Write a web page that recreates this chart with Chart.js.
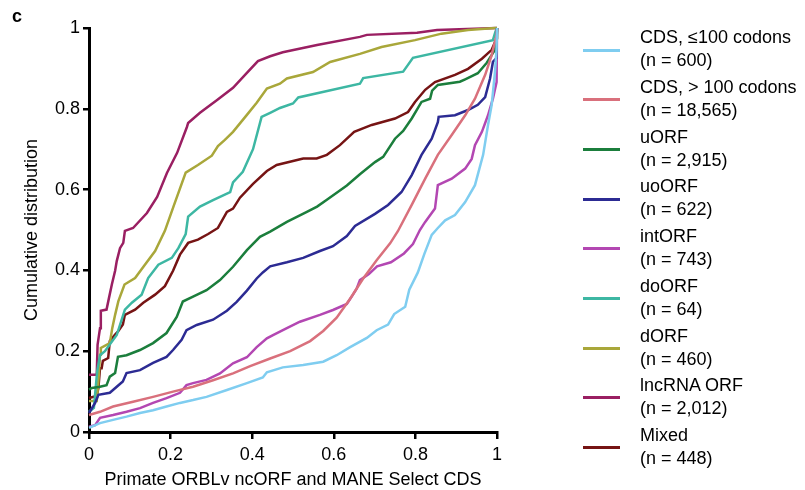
<!DOCTYPE html>
<html>
<head>
<meta charset="utf-8">
<script src="https://cdn.jsdelivr.net/npm/chart.js@4.4.1/dist/chart.umd.min.js"></script>
<style>
  body { margin: 0; background: #fff; }
  #wrap { position: relative; width: 805px; height: 490px; font-family: "Liberation Sans", Arial, sans-serif; color: #000; }
  #chart { position: absolute; left: 0; top: 0; }
  .panel { position: absolute; left: 12px; top: 7px; font-size: 18px; font-weight: bold; line-height: 18px; }
  .key { position: absolute; left: 583px; width: 37px; height: 3px; }
  .keytext { position: absolute; left: 640px; font-size: 18px; line-height: 23px; white-space: nowrap; }
</style>
</head>
<body>
<div id="wrap">
  <canvas id="chart" width="805" height="490"></canvas>
  <div class="panel">c</div>
  <div id="legend"></div>
</div>
<script>
// series names and counts, as in the legend
const seriesNames = ['CDS, \u2264100 codons', 'CDS, > 100 codons', 'uORF', 'uoORF', 'intORF', 'doORF', 'dORF', 'lncRNA ORF', 'Mixed'];
const seriesCounts = ['600', '18,565', '2,915', '622', '743', '64', '460', '2,012', '448'];
const seriesColors = ['#7fcdf0', '#d9707c', '#1b7e3c', '#2c2b93', '#b347b2', '#3db7a3', '#a9a73a', '#9a1f62', '#761414'];

const tickValues = [0, 0.2, 0.4, 0.6, 0.8, 1];
const tickLabels = ['0', '0.2', '0.4', '0.6', '0.8', '1'];

// cumulative curves: [percentile, cumulative fraction]
const cdsShort = [[0,0.01],[0.027,0.022],[0.059,0.03],[0.092,0.038],[0.125,0.047],[0.157,0.054],[0.19,0.063],[0.223,0.072],[0.255,0.079],[0.288,0.087],[0.338,0.104],[0.387,0.121],[0.426,0.135],[0.436,0.148],[0.475,0.16],[0.525,0.166],[0.574,0.174],[0.607,0.19],[0.64,0.21],[0.681,0.233],[0.705,0.252],[0.733,0.266],[0.748,0.292],[0.775,0.31],[0.785,0.352],[0.806,0.395],[0.822,0.441],[0.84,0.488],[0.855,0.505],[0.873,0.524],[0.897,0.537],[0.922,0.569],[0.946,0.611],[0.966,0.686],[0.978,0.76],[0.987,0.81],[0.995,0.891],[0.999,0.949],[1,1]];
const cdsLong = [[0,0.042],[0.027,0.05],[0.059,0.063],[0.108,0.075],[0.157,0.087],[0.206,0.1],[0.255,0.112],[0.304,0.128],[0.353,0.145],[0.395,0.163],[0.444,0.182],[0.493,0.2],[0.542,0.225],[0.574,0.25],[0.607,0.283],[0.64,0.33],[0.672,0.38],[0.705,0.425],[0.738,0.467],[0.757,0.497],[0.791,0.562],[0.824,0.627],[0.855,0.686],[0.889,0.735],[0.922,0.784],[0.946,0.825],[0.971,0.884],[0.987,0.933],[0.999,0.983],[1,1]];
const uORF = [[0,0.105],[0.007,0.109],[0.027,0.112],[0.043,0.116],[0.051,0.137],[0.064,0.146],[0.071,0.186],[0.092,0.19],[0.125,0.203],[0.157,0.22],[0.19,0.245],[0.215,0.285],[0.23,0.323],[0.255,0.335],[0.288,0.351],[0.321,0.376],[0.353,0.409],[0.387,0.45],[0.419,0.483],[0.444,0.496],[0.485,0.52],[0.534,0.545],[0.559,0.558],[0.583,0.575],[0.632,0.61],[0.664,0.638],[0.701,0.668],[0.721,0.681],[0.75,0.726],[0.77,0.745],[0.791,0.776],[0.815,0.817],[0.836,0.825],[0.841,0.845],[0.855,0.859],[0.909,0.867],[0.922,0.873],[0.953,0.888],[0.975,0.914],[0.995,0.946],[1,0.974],[1,1]];
const uoORF = [[0,0.047],[0.015,0.072],[0.023,0.092],[0.051,0.097],[0.068,0.112],[0.083,0.125],[0.092,0.146],[0.125,0.153],[0.157,0.171],[0.19,0.186],[0.206,0.203],[0.227,0.228],[0.239,0.252],[0.264,0.265],[0.304,0.278],[0.338,0.3],[0.362,0.322],[0.387,0.35],[0.411,0.38],[0.426,0.395],[0.444,0.41],[0.485,0.42],[0.525,0.431],[0.566,0.448],[0.598,0.46],[0.632,0.485],[0.652,0.51],[0.701,0.54],[0.733,0.562],[0.766,0.594],[0.791,0.636],[0.815,0.686],[0.84,0.726],[0.855,0.767],[0.857,0.78],[0.897,0.784],[0.929,0.797],[0.953,0.81],[0.971,0.829],[0.983,0.875],[0.99,0.916],[0.998,0.925],[1,1]];
const intORF = [[0,0.013],[0.015,0.017],[0.027,0.035],[0.059,0.042],[0.092,0.05],[0.125,0.059],[0.157,0.072],[0.19,0.084],[0.223,0.097],[0.239,0.116],[0.255,0.121],[0.288,0.129],[0.321,0.145],[0.353,0.17],[0.387,0.185],[0.411,0.21],[0.436,0.232],[0.451,0.24],[0.485,0.257],[0.517,0.273],[0.566,0.29],[0.598,0.302],[0.632,0.317],[0.647,0.34],[0.656,0.355],[0.664,0.376],[0.686,0.391],[0.706,0.41],[0.74,0.42],[0.772,0.442],[0.794,0.465],[0.811,0.5],[0.824,0.52],[0.848,0.553],[0.855,0.611],[0.889,0.627],[0.922,0.652],[0.938,0.676],[0.946,0.71],[0.963,0.743],[0.978,0.784],[0.99,0.825],[0.999,0.866],[1,1]];
const doORF = [[0,0.05],[0.012,0.06],[0.02,0.15],[0.027,0.19],[0.039,0.2],[0.068,0.24],[0.088,0.303],[0.105,0.32],[0.129,0.34],[0.145,0.381],[0.17,0.414],[0.203,0.431],[0.219,0.455],[0.237,0.49],[0.243,0.533],[0.272,0.558],[0.304,0.574],[0.346,0.594],[0.353,0.618],[0.377,0.644],[0.402,0.7],[0.423,0.78],[0.444,0.79],[0.468,0.802],[0.5,0.813],[0.513,0.828],[0.664,0.862],[0.672,0.876],[0.77,0.892],[0.794,0.926],[0.99,0.97],[0.996,0.99],[1,1]];
const dORF = [[0,0.077],[0.019,0.077],[0.023,0.126],[0.027,0.191],[0.029,0.208],[0.051,0.22],[0.057,0.257],[0.064,0.29],[0.072,0.324],[0.087,0.365],[0.113,0.381],[0.137,0.414],[0.162,0.448],[0.186,0.498],[0.207,0.558],[0.237,0.642],[0.267,0.661],[0.301,0.684],[0.316,0.708],[0.333,0.723],[0.353,0.743],[0.387,0.785],[0.411,0.815],[0.436,0.85],[0.468,0.862],[0.485,0.875],[0.549,0.891],[0.591,0.916],[0.664,0.936],[0.717,0.953],[0.799,0.97],[0.864,0.986],[0.929,0.995],[0.995,1],[1,1]];
const lncRNA = [[0,0.142],[0.019,0.142],[0.021,0.216],[0.027,0.257],[0.029,0.3],[0.043,0.303],[0.049,0.332],[0.056,0.365],[0.064,0.399],[0.068,0.423],[0.076,0.455],[0.084,0.468],[0.088,0.498],[0.108,0.505],[0.142,0.542],[0.167,0.582],[0.191,0.641],[0.216,0.691],[0.24,0.755],[0.243,0.765],[0.272,0.79],[0.314,0.822],[0.353,0.852],[0.387,0.889],[0.414,0.918],[0.444,0.93],[0.475,0.94],[0.559,0.958],[0.664,0.978],[0.681,0.983],[0.804,0.988],[0.853,0.995],[1,1]];
const mixed = [[0,0.084],[0.019,0.089],[0.023,0.109],[0.027,0.158],[0.031,0.158],[0.034,0.176],[0.047,0.183],[0.051,0.225],[0.064,0.241],[0.072,0.25],[0.083,0.266],[0.088,0.29],[0.113,0.303],[0.133,0.32],[0.162,0.34],[0.186,0.361],[0.206,0.399],[0.223,0.439],[0.243,0.468],[0.267,0.476],[0.292,0.49],[0.316,0.505],[0.338,0.545],[0.353,0.553],[0.37,0.58],[0.402,0.614],[0.436,0.646],[0.46,0.661],[0.525,0.677],[0.558,0.677],[0.583,0.686],[0.615,0.71],[0.65,0.743],[0.693,0.76],[0.75,0.776],[0.782,0.792],[0.799,0.817],[0.824,0.847],[0.848,0.866],[0.897,0.884],[0.929,0.899],[0.963,0.924],[0.987,0.946],[0.999,0.974],[1,1]];

const curves = [cdsShort, cdsLong, uORF, uoORF, intORF, doORF, dORF, lncRNA, mixed];

const font = { family: '"Liberation Sans", Arial, sans-serif', size: 18 };

const datasets = curves.map((pts, i) => ({
  label: seriesNames[i],
  data: pts.map(p => ({ x: p[0], y: p[1] })),
  borderColor: seriesColors[i],
  borderWidth: 2.5,
  pointRadius: 0,
  showLine: true,
  tension: 0,
  clip: 4
}));

function axis(title, isX) {
  return {
    type: 'linear',
    min: 0,
    max: 1,
    afterBuildTicks: s => { s.ticks = tickValues.map(v => ({ value: v })); },
    afterFit: s => { if (isX) s.height = 58; else s.width = 89; },
    ticks: {
      color: '#000',
      font: font,
      padding: isX ? 5 : 3,
      maxRotation: 0,
      callback: (v, i) => tickLabels[i]
    },
    grid: { drawOnChartArea: false, drawTicks: true, tickLength: isX ? 7 : 6, color: '#000', lineWidth: 2.5 },
    border: { color: '#000', width: 3 },
    title: {
      display: true,
      text: title,
      color: '#000',
      font: { family: font.family, size: 18, lineHeight: 1 },
      padding: isX ? { top: 0, bottom: 1 } : { top: 23, bottom: 0 }
    }
  };
}

new Chart(document.getElementById('chart'), {
  type: 'scatter',
  data: { datasets: datasets },
  options: {
    responsive: false,
    devicePixelRatio: 1,
    animation: false,
    layout: { padding: { left: 0, top: 28, right: 308, bottom: 0 } },
    plugins: { legend: { display: false }, tooltip: { enabled: false } },
    scales: {
      x: axis('Primate ORBLv ncORF and MANE Select CDS', true),
      y: axis('Cumulative distribution', false)
    }
  }
});

// legend on the right, two lines per entry
const legend = document.getElementById('legend');
seriesNames.forEach((name, i) => {
  const y = 50 + i * 49.7;
  const key = document.createElement('div');
  key.className = 'key';
  key.style.top = (y - 1.5) + 'px';
  key.style.background = seriesColors[i];
  legend.appendChild(key);
  const txt = document.createElement('div');
  txt.className = 'keytext';
  txt.style.top = (y - 23.7) + 'px';
  txt.innerHTML = name + '<br>(n = ' + seriesCounts[i] + ')';
  legend.appendChild(txt);
});
</script>
</body>
</html>
